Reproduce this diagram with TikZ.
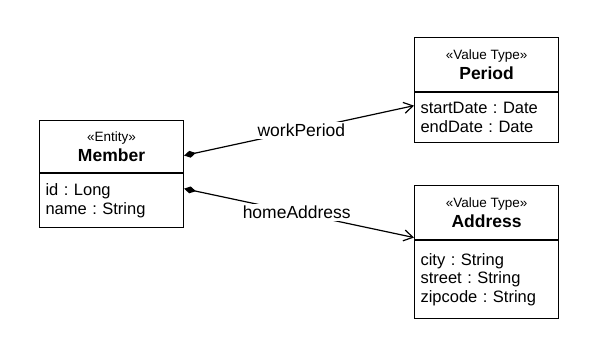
\documentclass[tikz,border=0pt]{standalone}
\usepackage{fontspec}
\setmainfont{Liberation Sans}
\usetikzlibrary{arrows.meta,positioning}
\frenchspacing

\begin{document}
\begin{tikzpicture}[x=1pt,y=1pt,
  classhead/.style={draw, line width=1.1pt, minimum width=144pt, inner sep=0pt, align=center, anchor=north west, font=\fontsize{17.5}{20}\selectfont},
  classattr/.style={draw, line width=1.1pt, text width=132pt, inner xsep=6pt, inner ysep=0pt, align=left, font=\fontsize{16.5}{18.5}\selectfont},
  assoc/.style={line width=1.2pt, {Diamond[length=12pt,width=7pt]}-{Straight Barb[length=9pt,width=11pt]}},
  rolelabel/.style={fill=white, inner xsep=8pt, inner ysep=2pt, font=\fontsize{17.5}{20}\selectfont}
]
  \useasboundingbox (0,0) rectangle (602,341);

  % Member
  \node[classhead, minimum height=52pt] (member) at (39,221) {{\fontsize{13.5}{15}\selectfont «Entity»}\\[0pt]\textbf{Member}};
  \node[classattr, minimum height=54pt, below=0pt of member] (memberattr) {id : Long\\name : String};

  % Period
  \node[classhead, minimum height=54pt] (period) at (414,304) {{\fontsize{13.5}{15}\selectfont «Value Type»}\\[0pt]\textbf{Period}};
  \node[classattr, minimum height=50pt, below=0pt of period] (periodattr) {startDate : Date\\endDate : Date};

  % Address
  \node[classhead, minimum height=54pt] (address) at (414,156) {{\fontsize{13.5}{15}\selectfont «Value Type»}\\[0pt]\textbf{Address}};
  \node[classattr, minimum height=78pt, below=0pt of address] (addressattr) {city : String\\street : String\\zipcode : String};

  % associations
  \draw[assoc] ([yshift=-9pt]member.east) -- node[rolelabel, pos=0.51] (workperiod) {workPeriod} ([yshift=12pt]periodattr.west);
  \draw[assoc] ([yshift=12pt]memberattr.east) -- node[rolelabel, pos=0.49] (homeaddress) {homeAddress} ([yshift=-25pt]address.west);
\end{tikzpicture}
\end{document}
